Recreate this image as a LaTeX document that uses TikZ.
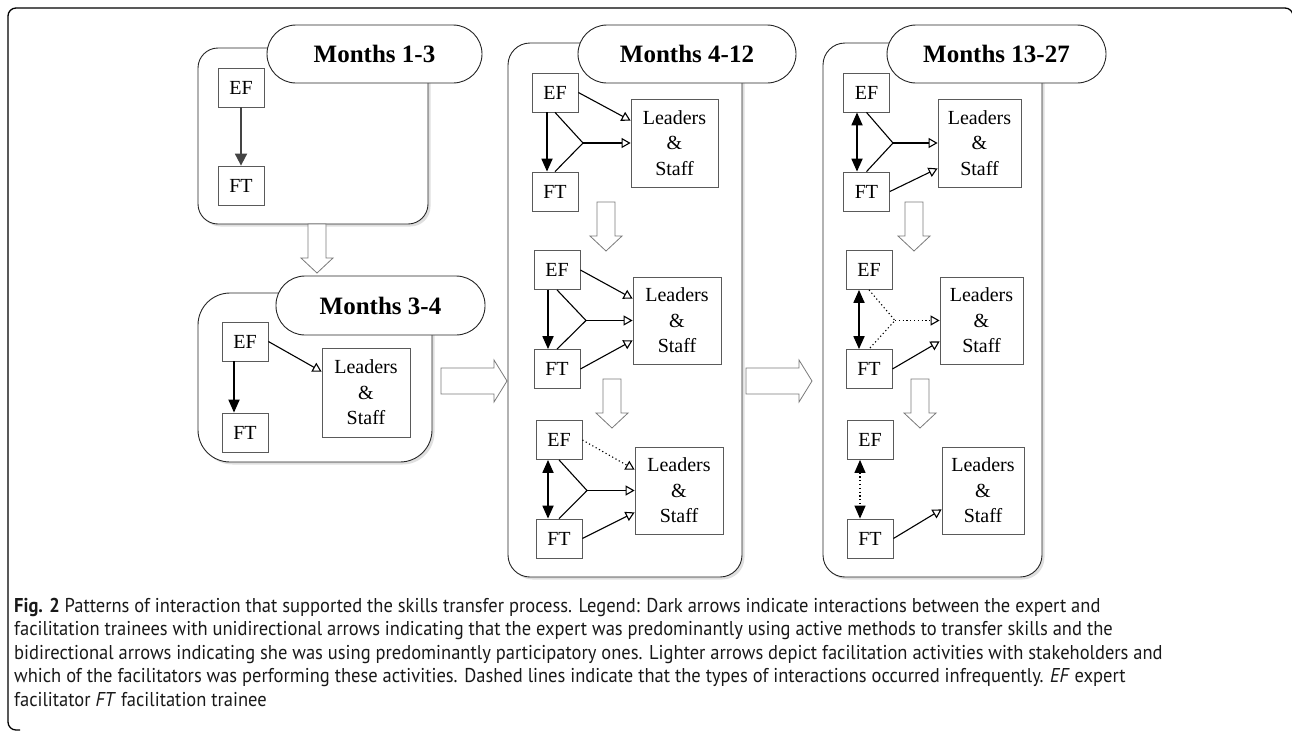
\documentclass[tikz,border=0pt]{standalone}
\usepackage{fontspec}
\setmainfont{Liberation Serif}
\newfontfamily\capfont[FakeStretch=0.925]{PT Sans}
\usetikzlibrary{arrows.meta}
\usetikzlibrary{shadows}
\definecolor{boxgray}{HTML}{5A5A5A}
\definecolor{blockgray}{HTML}{7A7A7A}
\definecolor{efgray}{HTML}{444444}
\tikzset{panel/.style = {draw=black!85, line width=0.9pt, fill=white, rounded corners=20pt,
                         drop shadow={shadow xshift=2.5pt, shadow yshift=-2.5pt, opacity=0.25}},
         pill/.style = {draw=black!85, line width=0.9pt, fill=white, rounded corners=29pt,
                        minimum height=58pt, inner sep=0pt,
                        font=\fontsize{25}{25}\selectfont\bfseries},
         role/.style = {draw=boxgray, line width=0.8pt, fill=white, minimum width=46pt,
                        minimum height=39pt, inner sep=0pt, font=\fontsize{20}{20}\selectfont},
         crowd/.style = {role, minimum width=87pt, minimum height=88pt, align=center,
                         font=\fontsize{20}{25.5}\selectfont},
         dark/.style = {line width=1.8pt, -{Triangle[length=13pt,width=11pt]}},
         dark both/.style = {line width=1.8pt,
                             {Triangle[length=13pt,width=11pt]}-{Triangle[length=13pt,width=11pt]}},
         lite/.style = {line width=1.1pt, -{Triangle[open,length=9pt,width=10pt]}},
         fork/.style = {line width=1.1pt},
         sparse/.style = {dash pattern=on 1.2pt off 2.6pt},
         hollow/.style = {draw=blockgray, line width=0.8pt, fill=white},
         capline/.style = {anchor=base west, inner sep=0pt, text=black!90,
                           font=\capfont\fontsize{20}{23.5}\selectfont},
         down block/.pic = {\draw[hollow] (-9,-49) -- (9,-49) -- (9,-15) -- (16,-15) -- (0,0)
                                          -- (-16,-15) -- (-9,-15) -- cycle;},
         right block/.pic = {\draw[hollow] (-66,-13) -- (-13,-13) -- (-13,-21) -- (0,0)
                                           -- (-13,21) -- (-13,13) -- (-66,13) -- cycle;}}

\begin{document}
\begin{tikzpicture}[x=1pt, y=-1pt]
    \useasboundingbox (0,0) rectangle (1292,732);
    \draw [line width=1.3pt, rounded corners=8pt] (20,730) -- (8,730) -- (8,8) -- (1293,8) -- (1293,30);

    % months 1-3
    \draw [panel] (198,48) rectangle (428,224);
    \node [pill, minimum width=215pt] (m13) at (374.5,54) {Months 1-3};
    \node [role] (ef1) at (241,87.5) {EF};
    \node [role] (ft1) at (241,185.5) {FT};
    \draw [dark, color=efgray, -{Triangle[length=12pt,width=12pt]}] (ef1) -- (ft1);
    \pic at (317,273) {down block};

    % months 3-4
    \draw [panel, rounded corners=32pt] (198,293) rectangle (432,462);
    \node [pill, minimum width=209pt, minimum height=59pt] (m34) at (380.5,305.5) {Months 3-4};
    \node [role] (ef2) at (245,341.5) {EF};
    \node [role] (ft2) at (245,432.5) {FT};
    \node [crowd, minimum width=88pt, minimum height=89pt] (ls2) at (366,392.5) {Leaders\\\&\\Staff};
    \draw [dark] ([xshift=-11pt]ef2.south) -- ([xshift=-11pt]ft2.north);
    \draw [lite] (ef2.east) -- ([yshift=-24pt]ls2.north west);
    \pic at (507,381) {right block};

    % months 4-12
    \draw [panel, rounded corners=22pt] (508,43) rectangle (742,577);
    \node [pill, minimum width=218pt] (m412) at (687,54) {Months 4-12};
    \node [role] (ef3a) at (555,92.5) {EF};
    \node [role] (ft3a) at (555,191.5) {FT};
    \node [crowd] (ls3a) at (674.5,143) {Leaders\\\&\\Staff};
    \coordinate (j3a) at (583,143);
    \draw [dark] ([xshift=-8pt]ef3a.south) -- ([xshift=-8pt]ft3a.north);
    \draw [lite] (ef3a.east) -- ([yshift=-22pt]ls3a.north west);
    \draw [fork] (ef3a.south) -- (j3a) -- (ft3a.north);
    \draw [lite] (j3a) -- (ls3a.west);
    \pic at (606,251) {down block};

    \node [role] (ef3b) at (557,270) {EF};
    \node [role] (ft3b) at (557,369) {FT};
    \node [crowd, minimum width=88pt, minimum height=87pt] (ls3b) at (677,320.5) {Leaders\\\&\\Staff};
    \coordinate (j3b) at (586,320.5);
    \draw [dark] ([xshift=-9pt]ef3b.south) -- ([xshift=-9pt]ft3b.north);
    \draw [lite] (ef3b.east) -- ([yshift=-22pt]ls3b.north west);
    \draw [fork] (ef3b.south) -- (j3b) -- (ft3b.north);
    \draw [lite] (j3b) -- (ls3b.west);
    \draw [lite] (ft3b.east) -- ([yshift=24pt]ls3b.south west);
    \pic at (612,428) {down block};

    \node [role] (ef3c) at (559,440) {EF};
    \node [role] (ft3c) at (559,538.5) {FT};
    \node [crowd, minimum width=88pt, minimum height=87pt] (ls3c) at (679,490.5) {Leaders\\\&\\Staff};
    \coordinate (j3c) at (587,490.5);
    \draw [dark both] ([xshift=-11pt]ef3c.south) -- ([xshift=-11pt]ft3c.north);
    \draw [lite, sparse] (ef3c.east) -- ([yshift=-23pt]ls3c.north west);
    \draw [fork] (ef3c.south) -- (j3c) -- (ft3c.north);
    \draw [lite] (j3c) -- (ls3c.west);
    \draw [lite] (ft3c.east) -- ([yshift=22pt]ls3c.south west);
    \pic at (812,381) {right block};

    % months 13-27
    \draw [panel, rounded corners=22pt] (823,43) rectangle (1042,577);
    \node [pill, minimum width=219pt] (m1327) at (996.5,54) {Months 13-27};
    \node [role] (ef4a) at (866.5,92.5) {EF};
    \node [role] (ft4a) at (866.5,191.5) {FT};
    \node [crowd, minimum width=83pt] (ls4a) at (979.5,143) {Leaders\\\&\\Staff};
    \coordinate (j4a) at (893,143);
    \draw [dark both] ([xshift=-9.5pt]ef4a.south) -- ([xshift=-9.5pt]ft4a.north);
    \draw [fork] (ef4a.south) -- (j4a) -- (ft4a.north);
    \draw [lite] (j4a) -- (ls4a.west);
    \draw [lite] (ft4a.east) -- ([yshift=19pt]ls4a.south west);
    \pic at (914,251) {down block};

    \node [role] (ef4b) at (869,270) {EF};
    \node [role] (ft4b) at (869,369) {FT};
    \node [crowd, minimum width=83pt, minimum height=87pt] (ls4b) at (981.5,320.5) {Leaders\\\&\\Staff};
    \coordinate (j4b) at (895,320.5);
    \draw [dark both] ([xshift=-10pt]ef4b.south) -- ([xshift=-10pt]ft4b.north);
    \draw [fork, sparse] (ef4b.south) -- (j4b) -- (ft4b.north);
    \draw [lite, sparse] (j4b) -- (ls4b.west);
    \draw [lite] (ft4b.east) -- ([yshift=23pt]ls4b.south west);
    \pic at (920,428) {down block};

    \node [role] (ef4c) at (870,440) {EF};
    \node [role] (ft4c) at (870,538.5) {FT};
    \node [crowd, minimum width=82pt, minimum height=87pt] (ls4c) at (983,490.5) {Leaders\\\&\\Staff};
    \draw [dark both, line width=1.2pt, sparse] ([xshift=-10pt]ef4c.south) -- ([xshift=-10pt]ft4c.north);
    \draw [lite] (ft4c.east) -- ([yshift=25pt]ls4c.south west);

    % caption
    \foreach \txt [count=\i] in {{\textbf{Fig. 2} Patterns of interaction that supported the skills transfer process. Legend: Dark arrows indicate interactions between the expert and},
                                 {facilitation trainees with unidirectional arrows indicating that the expert was predominantly using active methods to transfer skills and the},
                                 {bidirectional arrows indicating she was using predominantly participatory ones. Lighter arrows depict facilitation activities with stakeholders and},
                                 {which of the facilitators was performing these activities. Dashed lines indicate that the types of interactions occurred infrequently. \textit{EF} expert},
                                 {facilitator \textit{FT} facilitation trainee}}
        \node [capline] (cap\i) at (14,588.5+23.5*\i) {\txt};
\end{tikzpicture}
\end{document}
